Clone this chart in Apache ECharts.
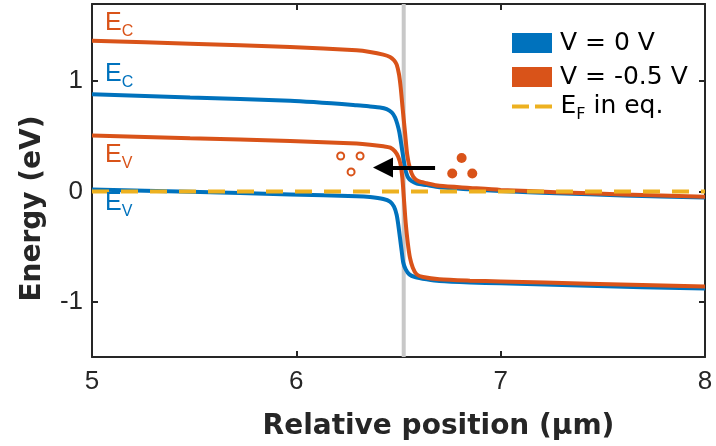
<!DOCTYPE html>
<html>
<head>
<meta charset="utf-8">
<script src="https://cdn.jsdelivr.net/npm/echarts@6/dist/echarts.min.js"></script>
<style>
html,body{margin:0;padding:0;background:#fff;}
#chart{width:716px;height:446px;}
</style>
</head>
<body>
<div id="chart"></div>
<script>
// ---- axes ----
const xMin = 5, xMax = 8, yMin = -1.5, yMax = 1.7;
const xTicks = [5, 6, 7, 8];
const yTicks = [-1, 0, 1];

// ---- V = 0 V (blue) ----
const blueEcX = [5.0, 5.48, 5.97, 6.295, 6.3606, 6.4095, 6.4423, 6.4668, 6.4829, 6.4942, 6.504, 6.5157, 6.527, 6.5368, 6.548, 6.5647, 6.5891, 6.6381, 6.70, 6.85, 7.0, 7.27, 7.6, 8.0];
const blueEcY = [0.882, 0.852, 0.822, 0.783, 0.771, 0.762, 0.747, 0.717, 0.672, 0.612, 0.538, 0.403, 0.267, 0.177, 0.124, 0.094, 0.073, 0.058, 0.038, 0.02, 0.004, -0.015, -0.035, -0.055];
const blueEvX = [5.0, 5.48, 5.97, 6.295, 6.3606, 6.4257, 6.4584, 6.478, 6.4912, 6.499, 6.5074, 6.5157, 6.5235, 6.5353, 6.5529, 6.5808, 6.638, 6.70, 6.85, 7.0, 7.43, 8.0];
const blueEvY = [0.019, -0.002, -0.026, -0.042, -0.05, -0.068, -0.092, -0.137, -0.212, -0.302, -0.422, -0.541, -0.646, -0.706, -0.751, -0.775, -0.796, -0.812, -0.825, -0.832, -0.855, -0.88];

// ---- V = -0.5 V (orange) ----
const orangeEcX = [5.0, 5.48, 5.97, 6.295, 6.3606, 6.4257, 6.4584, 6.478, 6.4912, 6.5025, 6.5108, 6.5206, 6.5318, 6.5431, 6.5563, 6.5725, 6.5969, 6.6381, 6.70, 6.85, 7.0, 7.27, 7.6, 8.0];
const orangeEcY = [1.367, 1.34, 1.31, 1.28, 1.265, 1.241, 1.22, 1.19, 1.151, 1.062, 0.942, 0.747, 0.537, 0.328, 0.208, 0.133, 0.094, 0.075, 0.052, 0.033, 0.015, -0.006, -0.026, -0.047];
const orangeEvX = [5.0, 5.48, 5.97, 6.295, 6.3606, 6.4257, 6.46, 6.483, 6.499, 6.511, 6.519, 6.526, 6.535, 6.545, 6.556, 6.57, 6.589, 6.62, 6.70, 6.85, 7.0, 7.43, 8.0];
const orangeEvY = [0.507, 0.483, 0.459, 0.435, 0.425, 0.41, 0.398, 0.364, 0.313, 0.238, 0.12, -0.05, -0.28, -0.46, -0.60, -0.69, -0.751, -0.775, -0.796, -0.808, -0.815, -0.835, -0.862];

// ---- Fermi level in equilibrium ----
const efX = [5, 8];
const efY = [0, 0];

// ---- junction marker ----
const junctionX = 6.5255;

// ---- carriers & arrow ----
const holeX = [6.217, 6.312, 6.268];
const holeY = [0.322, 0.322, 0.178];
const electronX = [6.809, 6.763, 6.861];
const electronY = [0.304, 0.163, 0.163];
const arrowX = [6.679, 6.424];
const arrowY = [0.217, 0.217];

const BLUE = '#0072BD', ORANGE = '#D95319', YELLOW = '#EDB120';
const AX = '#262626';
const SANS = "'Liberation Sans', Arial, Helvetica, sans-serif";
const WIDE = "'DejaVu Sans', sans-serif";
const zip = (xs, ys) => xs.map((x, i) => [x, ys[i]]);

const chart = echarts.init(document.getElementById('chart'), null, {renderer: 'canvas'});

const curve = (name, xs, ys, color) => ({
  name, type: 'line', data: zip(xs, ys), showSymbol: false, symbol: 'none',
  smooth: 0.25, z: 3,
  lineStyle: {color, width: 4}, itemStyle: {color}, silent: true
});

const subRich = (size) => ({
  e: {fontSize: size, fontFamily: SANS},
  s: {fontSize: 16, fontFamily: SANS, padding: [16, 0, 0, 0]}
});

const eLabel = (x, y, sub, color) => ({
  type: 'text', left: x, top: y - 13, z: 100,
  style: {text: '{e|E}{s|' + sub + '}', fill: color, rich: subRich(25)}
});

const axisCommon = {
  axisLine: {show: true, onZero: false, lineStyle: {color: AX, width: 2}},
  splitLine: {show: false}
};

chart.setOption({
  animation: false,
  backgroundColor: '#fff',
  grid: {left: 92, right: 11, top: 4, bottom: 86, containLabel: false},
  xAxis: [Object.assign({
    type: 'value', min: xMin, max: xMax, position: 'bottom',
    name: 'Relative position (µm)', nameLocation: 'middle', nameGap: 56,
    nameTextStyle: {fontSize: 28, fontWeight: 'bold', color: AX, fontFamily: WIDE, padding: [0, 0, 0, 80]},
    axisTick: {show: true, inside: true, length: 6, lineStyle: {color: AX, width: 2}, customValues: xTicks},
    axisLabel: {show: true, color: AX, fontSize: 26, fontFamily: SANS, margin: 12, customValues: xTicks}
  }, axisCommon), Object.assign({
    type: 'value', min: xMin, max: xMax, position: 'top',
    axisTick: {show: true, inside: true, length: 6, lineStyle: {color: AX, width: 2}, customValues: xTicks},
    axisLabel: {show: false}
  }, axisCommon)],
  yAxis: [Object.assign({
    type: 'value', min: yMin, max: yMax, position: 'left',
    name: 'Energy (eV)', nameLocation: 'middle', nameGap: 45,
    nameTextStyle: {fontSize: 28, fontWeight: 'bold', color: AX, fontFamily: WIDE, padding: [0, 56, 0, 0]},
    axisTick: {show: true, inside: true, length: 6, lineStyle: {color: AX, width: 2}, customValues: yTicks},
    axisLabel: {show: true, color: AX, fontSize: 26, fontFamily: SANS, margin: 9, customValues: yTicks}
  }, axisCommon), Object.assign({
    type: 'value', min: yMin, max: yMax, position: 'right',
    axisTick: {show: true, inside: true, length: 6, lineStyle: {color: AX, width: 2}, customValues: yTicks},
    axisLabel: {show: false}
  }, axisCommon)],
  legend: [{
    data: ['V = 0 V', 'V = -0.5 V'], orient: 'vertical', left: 512, top: 30.5, itemGap: 9, padding: 0,
    icon: 'rect', itemWidth: 40, itemHeight: 20, selectedMode: false,
    textStyle: {fontSize: 25, color: '#000', fontFamily: WIDE, padding: [0, 0, 0, 3]}
  }, {
    data: ['EF in eq.'], orient: 'vertical', left: 512, top: 94, selectedMode: false, padding: 0,
    icon: 'path://M0,0H17V4H0ZM23,0H40V4H23Z', itemWidth: 41, itemHeight: 4,
    itemStyle: {color: YELLOW, borderWidth: 0},
    formatter: () => '{e|E}{s|F}{e| in eq.}',
    textStyle: {color: '#000', padding: [0, 0, 0, 3],
      rich: {e: {fontSize: 25, fontFamily: WIDE}, s: {fontSize: 16, fontFamily: WIDE, padding: [16, 0, 0, 0]}}}
  }],
  graphic: [
    eLabel(105, 24, 'C', ORANGE),
    eLabel(105, 75, 'C', BLUE),
    eLabel(105, 156, 'V', ORANGE),
    eLabel(105, 204, 'V', BLUE)
  ],
  series: [
    {type: 'line', data: [[junctionX, yMin], [junctionX, yMax]], showSymbol: false, symbol: 'none', z: 1, silent: true,
     lineStyle: {color: '#c8c8c8', width: 4}},
    curve('V = 0 V', blueEcX, blueEcY, BLUE),
    curve('V = 0 V', blueEvX, blueEvY, BLUE),
    curve('V = -0.5 V', orangeEcX, orangeEcY, ORANGE),
    curve('V = -0.5 V', orangeEvX, orangeEvY, ORANGE),
    {name: 'EF in eq.', type: 'line', data: zip(efX, efY), showSymbol: false, symbol: 'none', z: 4, silent: true,
     lineStyle: {color: YELLOW, width: 4, type: [17, 12]}, itemStyle: {color: YELLOW}},
    {type: 'scatter', data: zip(holeX, holeY), symbol: 'circle', symbolSize: 7, z: 5, silent: true,
     itemStyle: {color: '#fff', borderColor: ORANGE, borderWidth: 2, opacity: 1}},
    {type: 'scatter', data: zip(electronX, electronY), symbol: 'circle', symbolSize: 10, z: 5, silent: true,
     itemStyle: {color: ORANGE, opacity: 1}},
    {type: 'lines', coordinateSystem: 'cartesian2d', z: 5, silent: true,
     symbol: ['none', 'triangle'], symbolSize: [16, 20],
     lineStyle: {color: '#000', width: 4, opacity: 1},
     data: [{coords: zip(arrowX, arrowY)}]}
  ]
});
</script>
</body>
</html>
